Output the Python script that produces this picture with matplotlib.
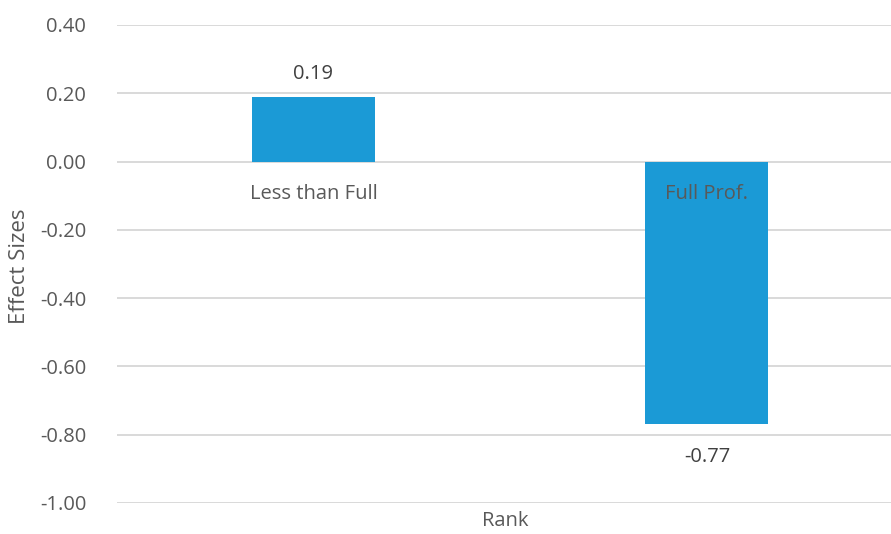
import matplotlib.pyplot as plt

plt.rcParams['font.family'] = ['Open Sans', 'DejaVu Sans']

# effect sizes by rank
categories = ['Less than Full', 'Full Prof.']
effect_sizes = [0.19, -0.77]
y_ticks = [0.40, 0.20, 0.00, -0.20, -0.40, -0.60, -0.80, -1.00]

text_color = '#595959'
bar_color = '#1b9ad6'

fig = plt.figure(figsize=(8.91, 5.34), dpi=100)
ax = fig.add_axes([0.1310, 0.0581, 0.8833, 0.8951])

# horizontal gridlines drawn by hand so tick labels can sit over the bars
for v in y_ticks:
    ax.axhline(v, color='#d9d9d9', linewidth=1.4, zorder=0)

x = range(len(categories))
ax.bar(x, effect_sizes, width=0.3126, color=bar_color, zorder=1)

ax.set_xlim(-0.5, 1.5)
ax.set_ylim(-1.0, 0.4)
ax.set_yticks(y_ticks)
ax.set_yticklabels([f'{v:.2f}' for v in y_ticks])

# category labels sit on the zero line
ax.spines['bottom'].set_position(('data', 0))
for s in ax.spines.values():
    s.set_visible(False)
ax.set_xticks(list(x))
ax.set_xticklabels(categories)
ax.tick_params(axis='x', length=0, pad=16, labelsize=14.5, colors=text_color)
ax.tick_params(axis='y', length=0, pad=22, labelsize=14.5, colors=text_color)

# value labels
for xi, v in zip(x, effect_sizes):
    off = 9 if v >= 0 else -16
    ax.annotate(f'{v:.2f}', (xi, v), xytext=(0, off), textcoords='offset points',
                ha='center', va='bottom' if v >= 0 else 'top',
                fontsize=14.5, color='#404040')

fig.text(505 / 891, 1 - 521 / 534, 'Rank', ha='center', va='center',
         fontsize=14.5, color=text_color)
fig.text(20 / 891, 1 - 266 / 534, 'Effect Sizes', ha='center', va='center',
         rotation=90, fontsize=16, color=text_color)

fig.savefig('out.png', dpi=100)
